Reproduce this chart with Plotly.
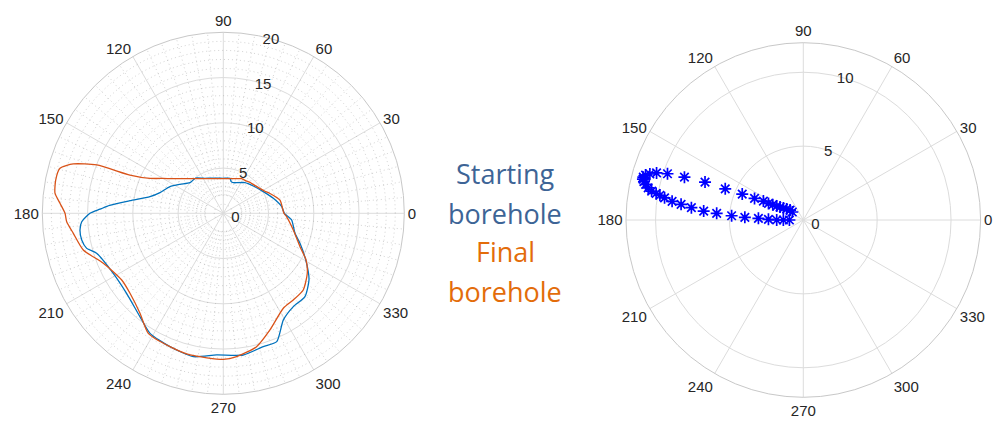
import plotly.graph_objects as go

# ---------------- data ----------------
# Left panel: borehole profiles (theta in degrees, radius)
theta_start = [0, 6.5, 16.7, 28.4, 42.3, 54.8, 66, 72, 76, 79, 90, 100, 110, 120, 128,
               137.4, 146.2, 153.4, 161.9, 167.2, 172.3, 176, 178.1, 180, 183.4, 186.6,
               190.7, 194.4, 197.5, 208.6, 219.6, 231.1, 238.6, 248.2, 258.2, 267.3,
               278, 286.7, 292.6, 299.4, 306.9, 314.4, 322.1, 329, 338.6, 344.4, 354.4, 360]
r_start = [6.75, 6.5, 5.77, 5.03, 4.48, 4.15, 3.7, 3.56, 3.6, 3.93, 3.87, 3.93, 4.12, 4.47, 4.95,
           5.0, 5.76, 6.59, 7.36, 8.31, 10.41, 12.6, 13.63, 14.73, 15.67, 15.94,
           15.92, 15.58, 14.68, 13.85, 13.87, 14.67, 15.54, 15.87, 16.18, 15.67,
           15.81, 15.38, 15.36, 13.52, 12.89, 12.89, 12.0, 10.74, 9.1, 8.22, 7.59, 6.75]

theta_final = [0, 13, 23, 28, 39, 50, 55, 62, 70, 80, 90, 100, 110, 120, 130, 140, 146,
               150, 154.5, 157.7, 159.1, 161.8, 164.6, 168.8, 173.2, 176.5, 180, 183.1,
               187.6, 194.7, 202.6, 213.3, 220.6, 230.2, 238, 248.2, 256.8, 270, 275.3,
               284, 291.8, 302.3, 308.9, 316.2, 324.5, 330.6, 336.5, 346.6, 357, 360]
r_final = [6.7, 6.43, 5.6, 5.2, 4.72, 4.5, 4.38, 4.33, 4.07, 3.89, 3.83, 3.89, 4.07, 4.42,
           5.0, 5.96, 6.85, 7.7, 8.97, 11.15, 14.97, 17.45, 18.72, 18.88, 18.73, 18.08,
           17.49, 17.33, 16.72, 15.99, 14.36, 13.43, 13.58, 14.38, 15.64, 15.87, 16.08,
           16.13, 15.9, 15.19, 13.88, 12.41, 12.31, 12.24, 11.4, 10.49, 9.24, 7.95, 7.0, 6.7]

# Right panel: star markers
theta_stars = [144, 143.1, 146.6, 149, 150.9, 152.3, 153.4, 154.5, 154.6, 156.1, 157, 158.2,
               158.9, 160.2, 161.2, 162.2, 163.3, 164.1, 165, 165.7, 166.5, 167.3, 168.3,
               169.2, 169.8, 170.2, 170.9, 171.9, 172.7, 173.7, 174.9, 175.6, 176.6, 177.4,
               177.9, 178.9, 180, 180, 180]
r_stars = [0.92, 1.12, 1.35, 1.57, 1.8, 2.03, 2.31, 2.61, 2.99, 3.61, 4.49, 5.69,
           7.13, 8.55, 9.71, 10.43, 10.84, 11.1, 11.21, 11.2, 11.09, 10.94, 10.72,
           10.45, 10.12, 9.85, 9.51, 8.97, 8.34, 7.62, 6.77, 5.88, 4.86, 3.96,
           3.04, 2.36, 1.8, 1.35, 0.94]

angle_ticks = [0, 30, 60, 90, 120, 150, 180, 210, 240, 270, 300, 330]
angle_labels = [str(a) for a in angle_ticks]
left_r_ticks = [0, 5, 10, 15, 20]
right_r_ticks = [0, 5, 10]
left_minor_r = [1, 2, 3, 4, 6, 7, 8, 9, 11, 12, 13, 14, 16, 17, 18, 19]
left_minor_theta = [a for a in range(0, 360, 5) if a % 30 != 0]

legend_lines = ["Starting", "borehole", "Final", "borehole"]
legend_colors = ["#3D6496", "#3D6496", "#E36C0A", "#E36C0A"]

# ---------------- figure ----------------
W, H = 993, 421
fig = go.Figure()

minor_col = "rgba(150,150,150,0.6)"
# minor dotted circles (left)
circ_theta = list(range(0, 361, 2))
for rr in left_minor_r:
    fig.add_trace(go.Scatterpolar(r=[rr] * len(circ_theta), theta=circ_theta, mode="lines",
                                  line=dict(color=minor_col, width=0.7, dash="1px,3px"),
                                  hoverinfo="skip", showlegend=False, subplot="polar"))
# minor dotted spokes (left)
sp_r, sp_t = [], []
for a in left_minor_theta:
    sp_r += [2, 20, None]
    sp_t += [a, a, None]
fig.add_trace(go.Scatterpolar(r=sp_r, theta=sp_t, mode="lines",
                              line=dict(color=minor_col, width=0.7, dash="1px,3px"),
                              hoverinfo="skip", showlegend=False, subplot="polar"))

fig.add_trace(go.Scatterpolar(r=r_start, theta=theta_start, mode="lines",
                              line=dict(color="#0072BD", width=1.3, shape="spline", smoothing=0.6),
                              name="Starting borehole", showlegend=False, subplot="polar"))
fig.add_trace(go.Scatterpolar(r=r_final, theta=theta_final, mode="lines",
                              line=dict(color="#D95319", width=1.3, shape="spline", smoothing=0.6),
                              name="Final borehole", showlegend=False, subplot="polar"))

fig.add_trace(go.Scatterpolar(r=r_stars, theta=theta_stars, mode="markers",
                              marker=dict(symbol="asterisk", size=10,
                                          line=dict(color="#0000FF", width=1.7)),
                              showlegend=False, subplot="polar2"))

tick_font = dict(family="Liberation Sans, Arial", size=15, color="#262626")
grid_col = "#DCDCDC"

def ang_axis():
    return dict(direction="counterclockwise", rotation=0, tickmode="array",
                tickvals=angle_ticks, ticktext=angle_labels, tickfont=tick_font,
                gridcolor=grid_col, linecolor="#C8C8C8", linewidth=1, ticks="",
                showline=True)

def px_dom(x0, x1, ytop, ybot):
    return dict(x=[x0 / W, x1 / W], y=[1 - ybot / H, 1 - ytop / H])

# left polar: centre (223.3, 213.3), radius 181
d1 = px_dom(223.3 - 181, 223.3 + 181, 213.3 - 181, 213.3 + 181)
# right polar: centre (803.3, 220), radius 177.3
d2 = px_dom(803.3 - 177.3, 803.3 + 177.3, 220 - 177.3, 220 + 177.3)

fig.update_layout(
    width=W, height=H, margin=dict(l=0, r=0, t=0, b=0),
    paper_bgcolor="white", plot_bgcolor="white",
    polar=dict(domain=d1, bgcolor="white",
               radialaxis=dict(range=[0, 20], tickmode="array", tickvals=left_r_ticks,
                               angle=80, side="clockwise", tickangle=80, showline=False,
                               ticks="", tickfont=tick_font, gridcolor=grid_col),
               angularaxis=ang_axis()),
    polar2=dict(domain=d2, bgcolor="white",
                radialaxis=dict(range=[0, 12], tickmode="array", tickvals=right_r_ticks,
                                angle=80, side="clockwise", tickangle=80, showline=False,
                                ticks="", tickfont=tick_font, gridcolor=grid_col),
                angularaxis=ang_axis()),
)

ys = [173, 213, 251, 291]
for txt, col, y in zip(legend_lines, legend_colors, ys):
    fig.add_annotation(text=txt, x=505 / W, y=1 - y / H, xref="paper", yref="paper",
                       showarrow=False, xanchor="center", yanchor="middle",
                       font=dict(family="Open Sans", size=27, color=col))

fig.write_html("out.html", config={"displayModeBar": False},
               post_script="document.body.style.margin='0';document.body.style.overflow='hidden';")
